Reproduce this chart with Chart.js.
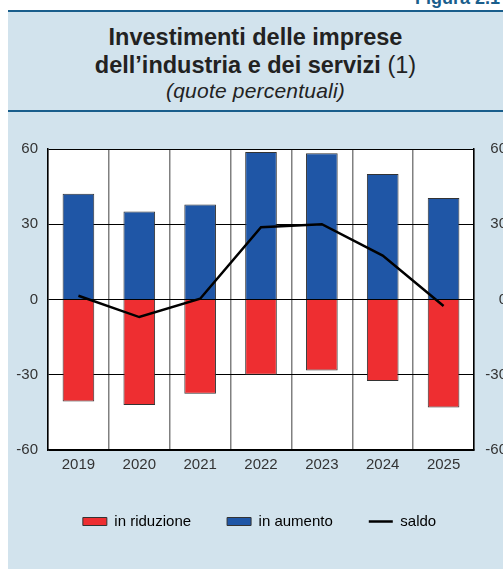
<!DOCTYPE html>
<html lang="it">
<head>
<meta charset="utf-8">
<title>Investimenti delle imprese</title>
<script src="https://cdn.jsdelivr.net/npm/chart.js@4.4.1/dist/chart.umd.min.js"></script>
<style>
  html, body {
    margin: 0;
    padding: 0;
    width: 503px;
    height: 569px;
    overflow: hidden;
    background: #fff;
    font-family: "Liberation Sans", Arial, sans-serif;
  }
  .fig-label {
    position: absolute;
    left: 415px;
    top: -12px;
    font-size: 18px;
    font-weight: bold;
    color: #1a5e8c;
    white-space: nowrap;
  }
  .panel {
    position: absolute;
    left: 8px;
    top: 10px;
    width: 495px;
    height: 559px;
    background: #d2e3ed;
    border-top: 2px solid #1a5e8c;
  }
  .head {
    position: absolute;
    left: 8px;
    top: 12px;
    width: 495px;
    height: 98px;
    border-bottom: 2px solid #1a5e8c;
    text-align: center;
    color: #222;
  }
  .head .t {
    position: absolute;
    left: 0;
    right: 0;
    top: 11px;
    font-size: 23.5px;
    font-weight: bold;
    line-height: 28px;
  }
  .head .t span { font-weight: normal; }
  .head .s {
    position: absolute;
    left: 0;
    right: 0;
    top: 68px;
    font-size: 21px;
    font-style: italic;
    line-height: 22px;
    letter-spacing: 0.2px;
  }
  #chart {
    position: absolute;
    left: 0;
    top: 130px;
  }
</style>
</head>
<body>
<div class="fig-label">Figura 2.1</div>
<div class="panel"></div>
<div class="head">
  <div class="t">Investimenti delle imprese<br>dell’industria e dei servizi <span>(1)</span></div>
  <div class="s">(quote percentuali)</div>
</div>
<canvas id="chart" width="512" height="439"></canvas>
<script>
  // dati
  const anni = ['2019', '2020', '2021', '2022', '2023', '2024', '2025']
  const inRiduzione = [-40.7, -42.1, -37.6, -30.0, -28.3, -32.5, -43.1]
  const inAumento = [42.2, 35.1, 37.9, 58.8, 58.3, 50.0, 40.5]
  const saldo = [1.5, -7.0, 0.3, 28.8, 30.0, 17.5, -2.6]
  const tickY = [-60, -30, 0, 30, 60]

  const rosso = '#ee2e31'
  const blu = '#1f56a6'
  const testo = '#333'

  // sfondo bianco dell'area del grafico
  const sfondoArea = {
    id: 'sfondoArea',
    beforeDraw(chart) {
      const { ctx, chartArea: a } = chart
      ctx.save()
      ctx.fillStyle = '#fff'
      ctx.fillRect(a.left, a.top, a.right - a.left, a.bottom - a.top)
      ctx.restore()
    }
  }

  // sposta un po' la legenda a destra, come nell'originale
  const spostaLegenda = {
    id: 'spostaLegenda',
    afterLayout(chart) {
      chart.legend.left += 6
      chart.legend.right += 6
    }
  }

  const asseY = (pos) => ({
    position: pos,
    min: -60,
    max: 60,
    stacked: pos === 'left',
    afterBuildTicks: (s) => { s.ticks = tickY.map(v => ({ value: v })) },
    afterFit: (s) => { s.width = pos === 'left' ? 48 : 33 },
    border: { display: true, color: '#000', width: 1.5 },
    grid: {
      display: pos === 'left',
      drawTicks: false,
      color: '#000',
      lineWidth: 1
    },
    ticks: {
      padding: 10,
      crossAlign: pos === 'left' ? 'near' : 'far',
      color: testo,
      font: { family: 'Liberation Sans', size: 15 }
    }
  })

  new Chart(document.getElementById('chart'), {
    data: {
      labels: anni,
      datasets: [
        {
          type: 'bar',
          label: 'in riduzione',
          data: inRiduzione,
          backgroundColor: rosso,
          borderColor: '#333',
          borderWidth: 1,
          stack: 'quote',
          order: 2
        },
        {
          type: 'bar',
          label: 'in aumento',
          data: inAumento,
          backgroundColor: blu,
          borderColor: '#333',
          borderWidth: 1,
          stack: 'quote',
          order: 2
        },
        {
          type: 'line',
          label: 'saldo',
          data: saldo,
          yAxisID: 'y2',
          borderColor: '#000',
          borderWidth: 2.5,
          pointRadius: 0,
          tension: 0,
          order: 0
        }
      ]
    },
    options: {
      responsive: false,
      animation: false,
      layout: { padding: { top: 16, right: 5, bottom: 30, left: 0 } },
      datasets: {
        bar: { barPercentage: 0.52, categoryPercentage: 1 }
      },
      scales: {
        x: {
          stacked: true,
          offset: true,
          afterFit: (s) => { s.height = 28 },
          border: { display: true, color: '#000', width: 1.5 },
          grid: {
            offset: true,
            drawTicks: false,
            color: '#808080',
            lineWidth: 1.5
          },
          ticks: {
            padding: 6,
            color: testo,
            font: { family: 'Liberation Sans', size: 15 }
          }
        },
        y: asseY('left'),
        y2: asseY('right')
      },
      plugins: {
        tooltip: { enabled: false },
        legend: {
          position: 'bottom',
          labels: {
            padding: 36,
            boxWidth: 24,
            boxHeight: 8,
            usePointStyle: true,
            pointStyleWidth: 24,
            color: testo,
            font: { family: 'Liberation Sans', size: 15 },
            generateLabels: () => [
              { text: 'in riduzione', fillStyle: rosso, strokeStyle: '#333', lineWidth: 1, pointStyle: 'rect', datasetIndex: 0 },
              { text: 'in aumento', fillStyle: blu, strokeStyle: '#333', lineWidth: 1, pointStyle: 'rect', datasetIndex: 1 },
              { text: 'saldo', fillStyle: '#000', strokeStyle: '#000', lineWidth: 2.5, pointStyle: 'line', datasetIndex: 2 }
            ]
          }
        }
      }
    },
    plugins: [sfondoArea, spostaLegenda]
  })
</script>
</body>
</html>
